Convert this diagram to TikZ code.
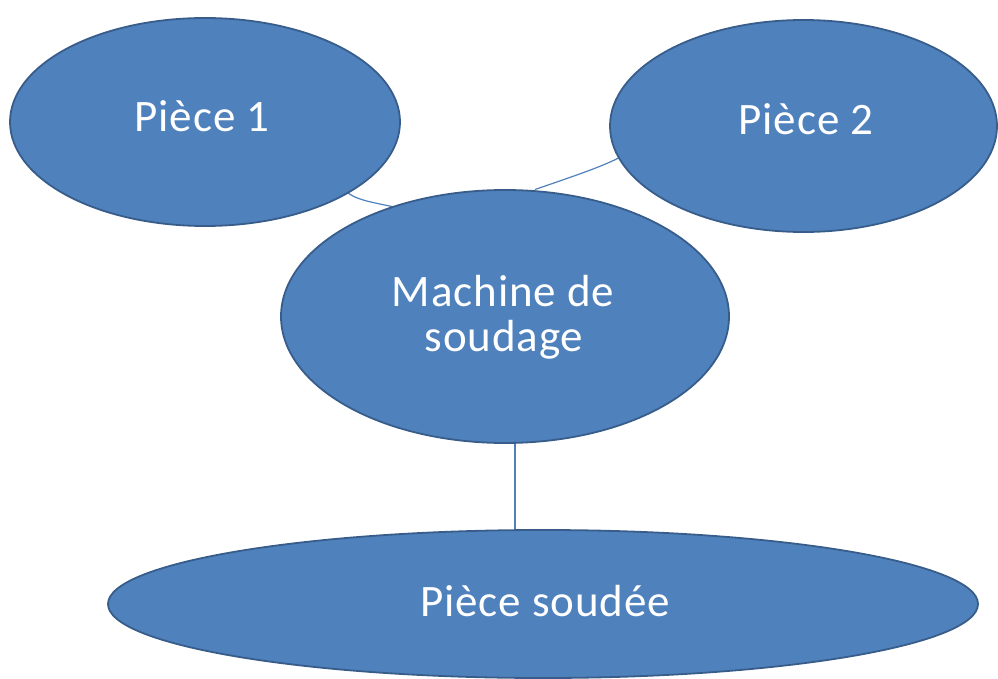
\documentclass[tikz,border=0pt]{standalone}
\usepackage{fontspec}
\setmainfont{Carlito}[LetterSpace=2]
\usetikzlibrary{shapes.geometric,backgrounds,calc}
\definecolor{ovalfill}{HTML}{4F81BD}
\definecolor{ovaledge}{HTML}{385D8A}
\definecolor{linkblue}{HTML}{4F81BD}
\begin{document}
\begin{tikzpicture}[x=1pt,y=-1pt,
  oval/.style={ellipse,fill=ovalfill,draw=ovaledge,line width=1.8pt,inner sep=0pt},
  caption/.style={anchor=base,inner sep=0pt,text=white,font=\fontsize{45}{46}\selectfont},
  link/.style={draw=linkblue,line width=1.2pt}]
  \useasboundingbox (0,0) rectangle (998,679);
  % the four ovals
  \node[oval,minimum width=390,minimum height=208] (p1) at (205,122) {};
  \node[oval,minimum width=387,minimum height=212] (p2) at (803.5,126) {};
  \node[oval,minimum width=448,minimum height=253] (m) at (505,316.5) {};
  \node[oval,minimum width=870,minimum height=148] (s) at (543,604) {};
  % their captions
  \node[caption] (t1) at (202,131.7) {Pièce 1};
  \node[caption] (t2) at (806,135) {Pièce 2};
  \node[caption] (tm1) at (503,306.7) {Machine de};
  \node[caption] (tm2) at (504,351) {soudage};
  \node[caption] (ts) at (545,616.7) {Pièce soudée};
  % connectors, tucked behind the ovals
  \begin{scope}[on background layer]
    \draw[link] ($(p1.center)+(120,48)$) coordinate (a1)
      .. controls ($(p1.center)+(145,76)$) .. ($(m.center)+(-113,-110)$) coordinate (b1);
    \draw[link] ($(p2.center)+(-133.5,2)$) coordinate (a2)
      .. controls ($(p2.center)+(-188.5,36)$) .. ($(m.center)+(30,-127)$) coordinate (b2);
    \draw[link] ($(m.center)+(10,100)$) coordinate (a3) -- ($(s.center)+(-28,-40)$) coordinate (b3);
  \end{scope}
\end{tikzpicture}
\end{document}
